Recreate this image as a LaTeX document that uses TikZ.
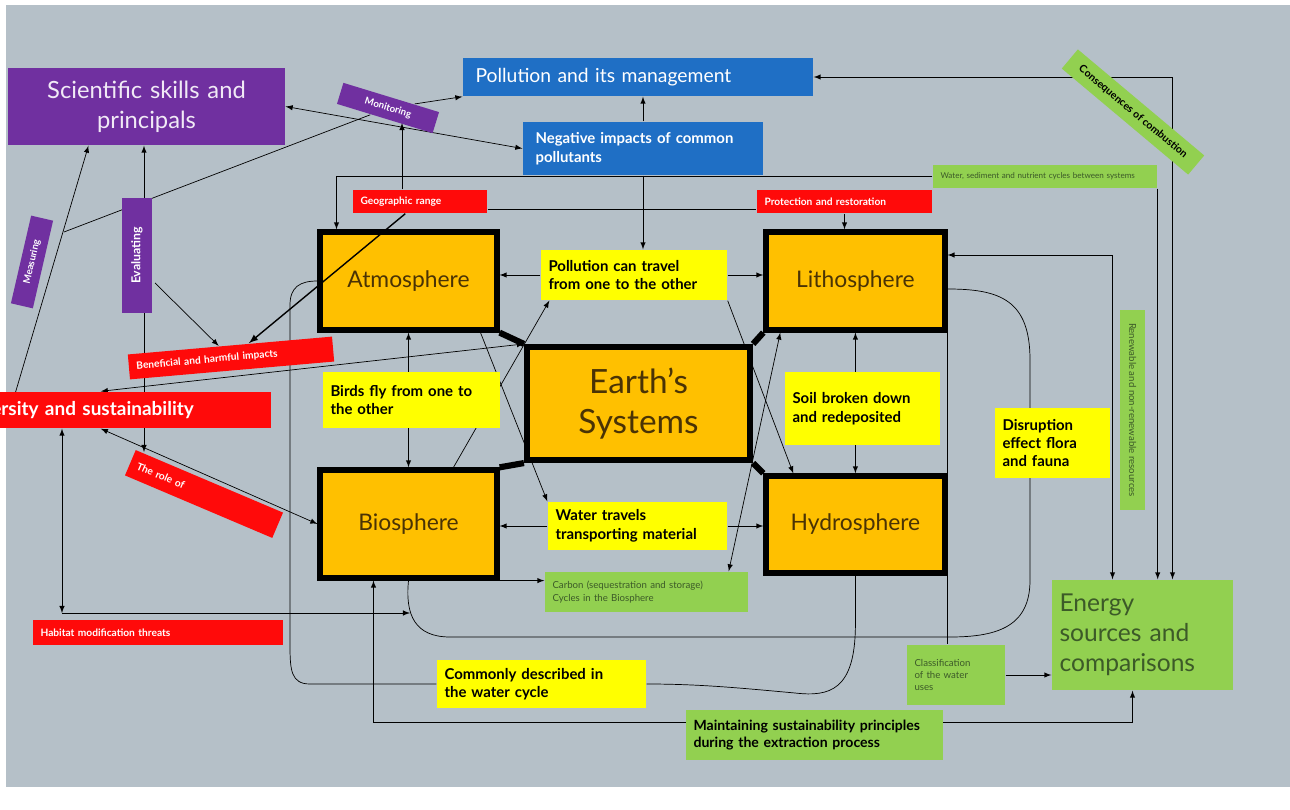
\documentclass[tikz,border=0pt]{standalone}
\usepackage{fontspec}
\setmainfont{Lato}
\usetikzlibrary{positioning}
\usetikzlibrary{calc}
\usetikzlibrary{backgrounds}

\definecolor{sbg}{HTML}{B5C0C8}
\definecolor{spurple}{HTML}{7030A0}
\definecolor{sblue}{HTML}{1F6FC5}
\definecolor{sred}{HTML}{FF0A0A}
\definecolor{sorange}{HTML}{FFC000}
\definecolor{syellow}{HTML}{FFFF00}
\definecolor{sgreen}{HTML}{92D050}
\definecolor{sbrown}{HTML}{4A3305}
\definecolor{sdkgreen}{HTML}{3C5A28}
\newcommand{\fsz}[2]{\fontsize{#1}{#2}\selectfont}

\begin{document}
\begin{tikzpicture}[-latex, thick, x=0.02cm, y=-0.02cm, on grid,
sphere/.style={draw, line width=3pt, fill=sorange, text=sbrown, font=\fsz{13}{15}},
note/.style={fill=syellow, align=left, inner xsep=0.15cm, font=\bfseries\fsz{8.5}{10.5}},
redtag/.style={fill=sred, text=white, align=left, inner xsep=0.15cm, inner ysep=0pt, font=\bfseries\fsz{5.8}{6.8}},
purtag/.style={fill=spurple, text=white, inner sep=0pt, font=\bfseries\fsz{5.5}{6.5}},
greentag/.style={fill=sgreen, text=sdkgreen, align=left, inner xsep=0.15cm, font=\fsz{5.5}{7}},
bluebox/.style={fill=sblue, text=white, align=left, inner xsep=0.25cm}]
\useasboundingbox (0,0) rectangle (1290,810);
\begin{scope}[on background layer]
\fill[white] (0,0) rectangle (1290,810);
\fill[sbg] (6,5) rectangle (1290,787);
\end{scope}

\node[fill=spurple, text=white!90!spurple, minimum width=5.54cm, minimum height=1.54cm, text width=5.24cm, align=center, font=\fsz{13.5}{17}] (SS) at (146.5,106.5) {Scientific skills and\\principals};
\node[bluebox, minimum width=7cm, minimum height=0.76cm, text width=6.5cm, font=\fsz{11}{13}] (PM) at (638,77) {Pollution and its management};
\node[bluebox, minimum width=4.8cm, minimum height=1.06cm, text width=4.3cm, font=\bfseries\fsz{8.5}{10.5}] (NI) at (643,148.5) {Negative impacts of common\\pollutants};
\node[purtag, minimum width=2cm, minimum height=0.44cm, rotate=-17] (Mo) at (388,108) {Monitoring};
\node[purtag, minimum width=1.8cm, minimum height=0.45cm, rotate=77] (Me) at (32,262) {Measuring};
\node[purtag, minimum width=2.3cm, minimum height=0.6cm, rotate=90, font=\bfseries\fsz{7}{8}] (Ev) at (137,255.5) {Evaluating};

\node[redtag, minimum height=0.46cm, text width=2.38cm] (GR) at (420,201.5) {Geographic range};
\node[redtag, minimum height=0.46cm, text width=3.2cm] (PR) at (844.5,201.5) {Protection and restoration};
\node[redtag, minimum height=0.5cm, text width=3.8cm, rotate=5] (BH) at (231,358) {Beneficial and harmful impacts};
\node[redtag, anchor=east, minimum height=0.72cm, text width=6.52cm, font=\bfseries\fsz{10.8}{12}] (BD) at (272,410) {Biodiversity and sustainability};
\node[redtag, minimum height=0.55cm, text width=2.9cm, rotate=-23] (TR) at (204,494) {The role of};
\node[redtag, minimum height=0.5cm, text width=4.7cm] (HM) at (158,632.5) {Habitat modification threats};

\node[sphere, minimum width=3.54cm, minimum height=1.96cm] (A) at (408.5,281) {Atmosphere};
\node[sphere, minimum width=3.58cm, minimum height=1.96cm] (L) [right=8.94cm of A] {Lithosphere};
\node[sphere, minimum width=3.54cm, minimum height=2.16cm] (B) [below=4.86cm of A] {Biosphere};
\node[sphere, minimum width=3.58cm, minimum height=1.94cm] (H) [below=4.87cm of L] {Hydrosphere};
\node[sphere, line width=3.5pt, minimum width=4.46cm, minimum height=2.26cm, align=center, font=\fsz{19}{23}] (E) at (638.5,403.5) {Earth’s\\Systems};

\node[note, minimum height=1.0cm, text width=3.42cm] (PT) at (634,275) {Pollution can travel\\from one to the other};
\node[note, minimum height=1.12cm, text width=3.24cm] (BF) at (411.5,400) {Birds fly from one to\\the other};
\node[note, minimum height=1.46cm, text width=2.8cm] (SB) at (862.5,408.5) {Soil broken down\\and redeposited};
\node[note, minimum height=0.96cm, text width=3.28cm] (W) at (637.5,526) {Water travels\\transporting material};
\node[note, minimum height=1.4cm, text width=2.0cm] (DF) at (1052.5,443) {Disruption\\effect flora\\and fauna};
\node[note, minimum height=0.96cm, text width=3.88cm] (Co) at (541.5,684) {Commonly described in\\the water cycle};

\node[greentag, minimum height=0.46cm, text width=4.18cm, font=\fsz{4.6}{5.5}] (GT) at (1045,176.5) {Water, sediment and nutrient cycles between systems};
\node[greentag, minimum height=0.8cm, text width=3.76cm] (Ca) at (646.5,592) {Carbon (sequestration and storage)\\Cycles in the Biosphere};
\node[greentag, minimum height=1.2cm, text width=1.66cm] (Di) at (956,675) {Classification\\of the water\\uses};
\node[greentag, minimum height=1.0cm, text width=4.84cm, text=black, font=\bfseries\fsz{8}{10}] (Ma) at (814.5,735) {Maintaining sustainability principles\\during the extraction process};
\node[greentag, minimum height=2.2cm, text width=3.32cm, font=\fsz{14}{17}] (En) at (1142.5,635) {Energy\\sources and\\comparisons};
\node[greentag, minimum width=3.3cm, minimum height=0.5cm, rotate=-40, text=black, font=\bfseries\fsz{6}{7}] (CC) at (1133,112) {Consequences of combustion};
\node[greentag, minimum width=4cm, minimum height=0.5cm, rotate=-90] (GV) at (1132.5,410) {Renewable and non-renewable resources};

\coordinate (m1) at (15,394);
\coordinate (m2) at (64,232);
\coordinate (e1) at (144,452);
\coordinate (e2) at (155,283);
\coordinate (g1) at (402,123);
\coordinate (h1) at (62,613);
\coordinate (h2) at (410,613);

\begin{scope}[on background layer]
\draw[latex-latex] (SS.east) -- (NI.west);
\draw (Mo) -- (PM.south west);
\draw (m1) -- ($(SS.south)+(-58,0)$);
\draw[-] (m2) -- (Mo);
\draw[latex-latex] (SS.south -| e1) -- (e1);
\draw (e2) -- (BH);
\draw (GR.north -| g1) -- (g1);
\draw (GT.west) -| ($(A.north)+(-72,0)$);
\draw[-] ($(GR.east)+(0,8)$) -- ($(PR.west)+(0,8)$);
\draw (PR.south) -- (PR.south |- L.north);
\draw (NI.north) -- (NI.north |- PM.south);
\draw (NI.south) -- (NI.south |- PT.north);
\draw[latex-latex] (PM.east) -| ($(En.north)+(30,0)$);
\draw (GT.south east) -- (GT.south east |- En.north);
\draw[latex-latex] ($(L.east)+(0,-26)$) -| ($(En.north)+(-30,0)$);
\draw (Di.east) -- (Di.east -| En.west);
\draw[-] (L.south east) -- (L.south east |- Di.north);
\draw[latex-latex] ($(B.south)+(-35,0)$) |- ($(En.south)+(-10,32)$) -- ($(En.south)+(-10,0)$);
\draw[-] ($(L.east)+(0,8)$) .. controls (1000,289) and (1030,300) .. (1030,360) -- (1030,580) .. controls (1030,625) and (1000,637) .. (950,637) -- (450,637) .. controls (415,637) and (405,615) .. (B.south);
\draw[-] (H.south) -- ($(H.south)+(0,50)$) .. controls (855,690) and (830,697) .. (795,693) .. controls (740,688) and (700,684) .. (Co.east);
\draw[-] (Co.west) -- (310,684) .. controls (291,684) and (290,670) .. (290,645) -- (290,305) .. controls (290,287) and (300,281) .. (A.west);
\draw[latex-latex] (BD.south -| h1) -- (h1);
\draw (h1) -- (h2);
\draw[latex-latex] (A.south) -- (B.north);
\draw[latex-latex] (L.south) -- (H.north);
\draw (PT.west) -- (PT.west -| A.east);
\draw (PT.east) -- (PT.east -| L.west);
\draw (W.west) -- (W.west -| B.east);
\draw (W.east) -- (W.east -| H.west);
\draw ($(A.south)+(72,0)$) -- (W.north west);
\draw ($(B.north)+(45,0)$) -- ($(PT.south west)+(9,0)$);
\draw (PT.south east) -- ($(H.north west)+(30,0)$);
\draw[latex-latex] ($(L.south west)+(17,0)$) -- ($(Ca.north east)+(-20,0)$);
\draw (B.south east) -- (B.south east -| Ca.west);
\draw[latex-latex] (BD.north) -- (E.north west);
\draw[latex-latex] (BD.south) -- (B.west);
\end{scope}

\draw (GR) -- (BH);
\draw[-, line width=3.5pt] (A.south east) -- (E.north west);
\draw[-, line width=3.5pt] (L.south west) -- (E.north east);
\draw[-, line width=3.5pt] (B.north east) -- (E.south west);
\draw[-, line width=3.5pt] (H.north west) -- (E.south east);
\end{tikzpicture}
\end{document}
